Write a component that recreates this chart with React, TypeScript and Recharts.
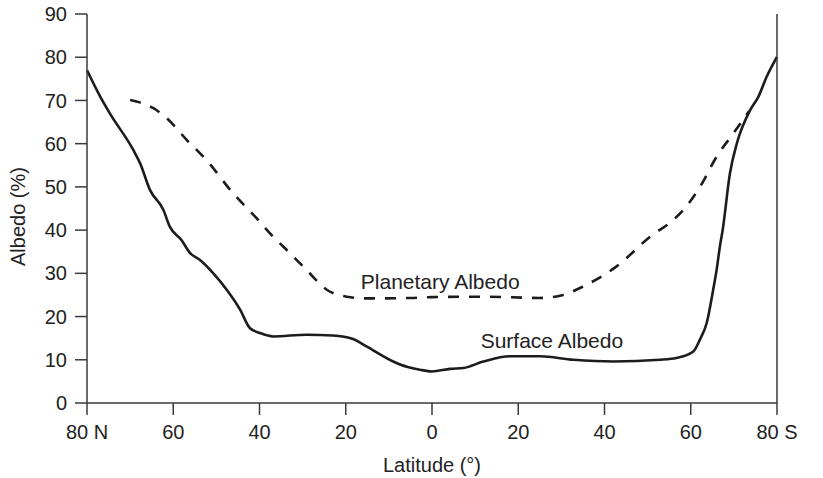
import React from 'react';
import { LineChart, Line, XAxis, YAxis, ReferenceDot } from 'recharts';

// latitude: negative = north, positive = south
const surfaceLat = [
  -80, -77, -74.7, -69.3, -67.7, -65.4, -62.3, -60.8, -58.1, -56.1, -53.8, -50.7, -47.6, -44.5, -42.2,
  -39.9, -36.8, -29.1, -23, -18.3, -15.2, -9, -7.4, -2.8, 0, 4.2, 7.3, 11.9, 18.1, 25, 32.8, 42, 52.9,
  56.7, 60.6, 62.1, 63.7, 65.2, 66, 66.8, 67.4, 69.1, 70.7, 73.8, 75.7, 77.6, 80,
];
const surfaceAlbedo = [
  77, 71, 67, 58.6, 55.5, 49.3, 44.7, 40.8, 37.7, 34.7, 33.1, 30, 26.2, 21.6, 17.3,
  16.2, 15.4, 15.8, 15.6, 14.8, 13.1, 9.6, 8.9, 7.7, 7.3, 7.9, 8.1, 9.6, 10.8, 10.8, 10.0, 9.6, 10,
  10.4, 11.9, 14.6, 18.5, 26.2, 30.8, 36.5, 40, 53.2, 60.1, 67.8, 70.9, 75.5, 80.1,
];

const planetaryLat = [
  -70, -64.6, -61.5, -56.9, -52.3, -46.1, -41, -36.4, -34.5, -29.1, -24.4, -19.8, -15, -5, 0, 12, 25,
  30.4, 35.1, 42.8, 50.6, 56, 58.3, 62.2, 66, 69.9, 73.5,
];
const planetaryAlbedo = [
  70.1, 68.2, 65.9, 60.9, 56.2, 48.5, 43.1, 38, 36.2, 30.8, 26.2, 24.6, 24.2, 24.3, 24.5, 24.6, 24.3,
  25, 27, 31.6, 38.5, 42.4, 44.7, 50.1, 57, 62.4, 67.5,
];

const latTicks = [-80, -60, -40, -20, 0, 20, 40, 60, 80];
const albedoTicks = [0, 10, 20, 30, 40, 50, 60, 70, 80, 90];

const surfaceData = surfaceLat.map((lat, i) => ({ lat, albedo: surfaceAlbedo[i] }));
const planetaryData = planetaryLat.map((lat, i) => ({ lat, albedo: planetaryAlbedo[i] }));

const FONT = '"Liberation Sans", Arial, sans-serif';
const INK = '#1c1c1c';
const AXIS = '#3a3a3a';
const TEXT = '#222';

const fmtLat = (v: number) => (v === -80 ? '80 N' : v === 80 ? '80 S' : String(Math.abs(v)));

const tickStyle = { fill: TEXT, fontSize: 20, fontFamily: FONT };

export default function App() {
  return (
    <div style={{ position: 'absolute', left: 0, top: 0, background: '#fff' }}>
      <LineChart
        width={823}
        height={478}
        margin={{ top: 14, right: 0, bottom: 0, left: 0 }}
        style={{ fontFamily: FONT }}
      >
        <XAxis
          dataKey="lat"
          type="number"
          domain={[-80, 80]}
          ticks={latTicks}
          interval={0}
          tickFormatter={fmtLat}
          height={75}
          tickSize={12}
          tickMargin={10}
          stroke={AXIS}
          strokeWidth={1.5}
          tick={tickStyle}
          label={{
            content: (props: any) => {
              const vb = props.viewBox || { x: 87, y: 403, width: 690 };
              return (
                <text
                  x={vb.x + vb.width / 2}
                  y={vb.y + 68.5}
                  textAnchor="middle"
                  fill={TEXT}
                  fontSize={20}
                  fontFamily={FONT}
                >
                  Latitude (°)
                </text>
              );
            },
          }}
        />
        <YAxis
          yAxisId="left"
          domain={[0, 90]}
          ticks={albedoTicks}
          interval={0}
          width={87}
          tickSize={12}
          tickMargin={8}
          stroke={AXIS}
          strokeWidth={1.5}
          tick={tickStyle}
          label={{
            content: (props: any) => {
              const vb = props.viewBox || { x: 0, y: 14, height: 389 };
              const cx = vb.x + 25;
              const cy = vb.y + vb.height / 2 + 8;
              return (
                <text
                  x={cx}
                  y={cy}
                  transform={`rotate(-90 ${cx} ${cy})`}
                  textAnchor="middle"
                  fill={TEXT}
                  fontSize={20}
                  fontFamily={FONT}
                >
                  Albedo (%)
                </text>
              );
            },
          }}
        />
        <YAxis
          yAxisId="right"
          orientation="right"
          domain={[0, 90]}
          ticks={albedoTicks}
          interval={0}
          width={46}
          tickSize={12}
          tickMargin={8}
          stroke={AXIS}
          strokeWidth={1.5}
          tick={tickStyle}
        />
        <Line
          yAxisId="left"
          data={surfaceData}
          dataKey="albedo"
          type="monotone"
          stroke={INK}
          strokeWidth={2.6}
          dot={false}
          activeDot={false}
          isAnimationActive={false}
        />
        <Line
          yAxisId="left"
          data={planetaryData}
          dataKey="albedo"
          type="monotone"
          stroke={INK}
          strokeWidth={2.6}
          strokeDasharray="11 10"
          dot={false}
          activeDot={false}
          isAnimationActive={false}
        />
        <ReferenceDot
          yAxisId="left"
          x={1.9}
          y={28.2}
          r={0}
          fill="none"
          stroke="none"
          label={{ value: 'Planetary Albedo', position: 'center', fill: TEXT, fontSize: 21, fontFamily: FONT }}
        />
        <ReferenceDot
          yAxisId="left"
          x={27.8}
          y={14.5}
          r={0}
          fill="none"
          stroke="none"
          label={{ value: 'Surface Albedo', position: 'center', fill: TEXT, fontSize: 21, fontFamily: FONT }}
        />
      </LineChart>
    </div>
  );
}
